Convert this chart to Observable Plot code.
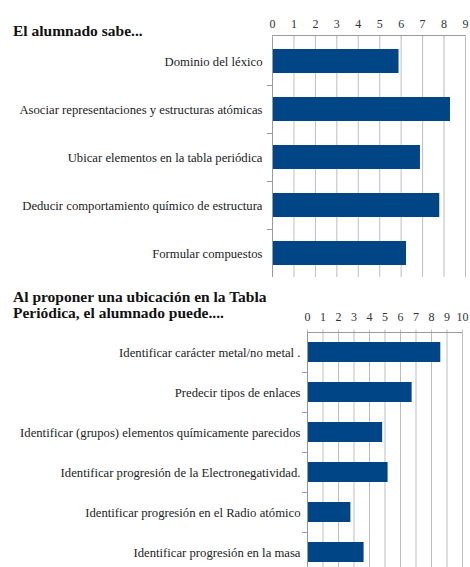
<!DOCTYPE html>
<html><head><meta charset="utf-8">
<script src="https://cdn.jsdelivr.net/npm/d3@7"></script>
<script src="https://cdn.jsdelivr.net/npm/@observablehq/plot@0.6"></script>
<style>
html,body{margin:0;padding:0;background:#fff;overflow:hidden;}
#wrap{position:relative;width:470px;height:567px;overflow:hidden;font-family:"Liberation Serif","Times New Roman",Tinos,"DejaVu Serif",serif;}
.title{position:absolute;left:13px;font-weight:bold;font-size:15.5px;line-height:16px;color:#111;white-space:nowrap;}
.chart{position:absolute;left:0;}
</style></head><body>
<div id="wrap">
  <div class="title" style="top:23.4px">El alumnado sabe...</div>
  <div class="chart" id="c1" style="top:0px"></div>
  <div class="title" style="top:289px">Al proponer una ubicación en la Tabla<br>Periódica, el alumnado puede....</div>
  <div class="chart" id="c2" style="top:280px"></div>
</div>
<script>
const cats1 = [
  "Dominio del léxico",
  "Asociar representaciones y estructuras atómicas",
  "Ubicar elementos en la tabla periódica",
  "Deducir comportamiento químico de estructura",
  "Formular compuestos"
];
const vals1 = [5.9, 8.3, 6.9, 7.8, 6.25];
const ticks1 = [0, 1, 2, 3, 4, 5, 6, 7, 8, 9];

const cats2 = [
  "Identificar carácter metal/no metal .",
  "Predecir tipos de enlaces",
  "Identificar (grupos) elementos químicamente parecidos",
  "Identificar progresión de la Electronegatividad.",
  "Identificar progresión en el Radio atómico",
  "Identificar progresión en la masa"
];
const vals2 = [8.6, 6.75, 4.85, 5.2, 2.8, 3.65];
const ticks2 = [0, 1, 2, 3, 4, 5, 6, 7, 8, 9, 10];

const FONT = '"Liberation Serif", "Times New Roman", Tinos, "DejaVu Serif", serif';

function chart({cats, vals, ticks, height, marginTop, marginBottom, marginLeft, marginRight, labelPad, topShift, numPad}) {
  const step = (height - marginTop - marginBottom) / cats.length;
  const rows = cats.map((c, i) => ({cat: c, val: vals[i]}));
  const lo = ticks[0], hi = ticks[ticks.length - 1];
  return Plot.plot({
    width: 470, height, marginTop, marginBottom, marginLeft, marginRight,
    style: {fontFamily: FONT, fontSize: "12px", color: "#222", background: "transparent", overflow: "visible"},
    x: {domain: [lo, hi], label: null},
    y: {domain: cats, paddingInner: 0.5, paddingOuter: 0.25, label: null},
    marks: [
      Plot.ruleX(ticks, {stroke: "#bdbdbd", strokeWidth: 1}),
      Plot.axisX(ticks, {anchor: "top", tickSize: 3, tickPadding: numPad, stroke: "#bdbdbd", fill: "#333", fontSize: 12, label: null, fontFamily: FONT}),
      Plot.barX(rows, {x: "val", y: "cat", fill: "#004586"}),
      Plot.ruleX([lo], {stroke: "#9a9a9a"}),
      Plot.ruleY([cats[0]], {dy: -step / 2 - topShift, x1: lo, x2: hi, stroke: "#9a9a9a"}),
      Plot.axisY(cats.slice(1), {anchor: "left", tickSize: 5, text: null, dy: -step / 2, stroke: "#9a9a9a", label: null}),
      Plot.axisY({anchor: "left", tickSize: 0, tickPadding: labelPad, fill: "#222", fontSize: 12.7, label: null, fontFamily: FONT})
    ]
  });
}

document.getElementById("c1").append(chart({
  cats: cats1, vals: vals1, ticks: ticks1,
  height: 280, marginTop: 37, marginBottom: 3, marginLeft: 272, marginRight: 5, labelPad: 10, topShift: 2, numPad: 7
}));
document.getElementById("c2").append(chart({
  cats: cats2, vals: vals2, ticks: ticks2,
  height: 292, marginTop: 51.5, marginBottom: 0.5, marginLeft: 307, marginRight: 8, labelPad: 7, topShift: 0, numPad: 8
}));
</script>
</body></html>
